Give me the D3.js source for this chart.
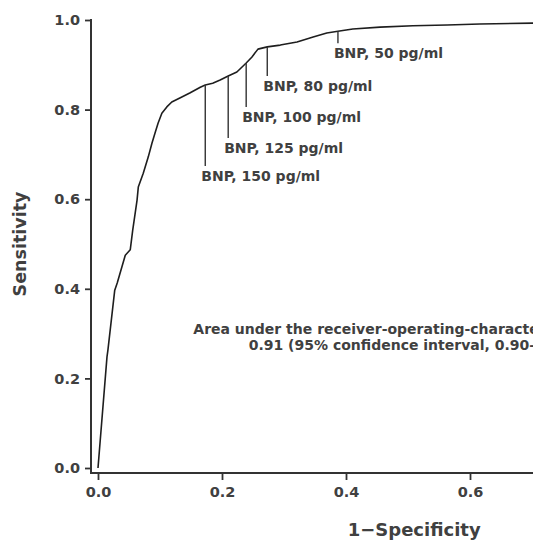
<!DOCTYPE html>
<html lang="en">

<head>
    <meta charset="UTF-8">
    <title>ROC curve for BNP</title>
    <script src="https://d3js.org/d3.v7.min.js"></script>
    <style>
        body {
            margin: 0;
            background: #fff;
        }

        text {
            font-family: "DejaVu Sans", Verdana, sans-serif;
            font-weight: bold;
            fill: #404040;
        }
    </style>
</head>

<body>
    <script>
        // ROC curve (1 - specificity, sensitivity)
        const fpr = [0, 0.0145, 0.016, 0.027, 0.031, 0.044, 0.052, 0.056, 0.063, 0.065, 0.073, 0.081, 0.087,
            0.092, 0.097, 0.103, 0.111, 0.119, 0.132, 0.148, 0.165, 0.173, 0.185, 0.197, 0.210, 0.224,
            0.239, 0.248, 0.258, 0.273, 0.294, 0.321, 0.347, 0.369, 0.387, 0.411, 0.455, 0.508, 0.563,
            0.616, 0.702, 0.8, 0.9, 1];
        const tpr = [0, 0.248, 0.263, 0.397, 0.413, 0.475, 0.487, 0.531, 0.598, 0.627, 0.658, 0.694, 0.725,
            0.748, 0.770, 0.792, 0.806, 0.817, 0.826, 0.837, 0.850, 0.855, 0.859, 0.866, 0.875, 0.884,
            0.904, 0.917, 0.935, 0.940, 0.944, 0.951, 0.962, 0.971, 0.975, 0.980, 0.984, 0.987, 0.989,
            0.991, 0.993, 0.996, 0.998, 1];

        // BNP cut-off points marked on the curve
        const cutoffs = [150, 125, 100, 80, 50];
        const cutoffFpr = [0.173, 0.210, 0.239, 0.273, 0.387];
        const cutoffTpr = [0.855, 0.875, 0.904, 0.940, 0.975];

        // only the ticks that show inside the cropped figure
        const xTicks = [0, 0.2, 0.4, 0.6];
        const yTicks = [0, 0.2, 0.4, 0.6, 0.8, 1.0];

        const aucLines = ["Area under the receiver-operating-characteristic curve,",
            "0.91 (95% confidence interval, 0.90\u20130.93)"];

        const width = 533;
        const height = 542;

        // how far each cut-off label sits below its point (px)
        const labelDrop = [96, 77, 59, 44, 27];

        const svg = d3.select("body").append("svg")
            .attr("width", width)
            .attr("height", height);

        const x = d3.scaleLinear().domain([0, 1]).range([98, 718]);
        const y = d3.scaleLinear().domain([0, 1]).range([468, 20]);

        const axisX = 91;   // y axis is pulled off the plot a little
        const axisY = 473;  // same for x axis

        // x axis
        const gx = svg.append("g")
            .attr("transform", `translate(0,${axisY})`)
            .call(d3.axisBottom(x)
                .tickValues(xTicks)
                .tickFormat(d3.format(".1f"))
                .tickSize(7)
                .tickPadding(7)
                .tickSizeOuter(0));

        // y axis
        const gy = svg.append("g")
            .attr("transform", `translate(${axisX},0)`)
            .call(d3.axisLeft(y)
                .tickValues(yTicks)
                .tickFormat(d3.format(".1f"))
                .tickSize(6)
                .tickPadding(5)
                .tickSizeOuter(0));

        [gx, gy].forEach(g => {
            g.select(".domain").remove();
            g.selectAll(".tick line").attr("stroke", "#333").attr("stroke-width", 1.8);
            g.selectAll(".tick text").style("font-size", "14.5px");
        });

        svg.append("line")
            .attr("x1", axisX).attr("x2", axisX)
            .attr("y1", y(1) - 1).attr("y2", axisY + 1)
            .attr("stroke", "#333").attr("stroke-width", 2);

        svg.append("line")
            .attr("x1", axisX - 1).attr("x2", x(1))
            .attr("y1", axisY).attr("y2", axisY)
            .attr("stroke", "#333").attr("stroke-width", 2);

        // axis titles
        svg.append("text")
            .attr("x", x(0.51))
            .attr("y", 536)
            .attr("text-anchor", "middle")
            .style("font-size", "18px")
            .text("1\u2212Specificity");

        svg.append("text")
            .attr("transform", `translate(26,${y(0.5)}) rotate(-90)`)
            .attr("text-anchor", "middle")
            .style("font-size", "17.5px")
            .text("Sensitivity");

        // the curve
        const line = d3.line()
            .x((d, i) => x(fpr[i]))
            .y((d, i) => y(tpr[i]));

        svg.append("path")
            .datum(fpr)
            .attr("d", line)
            .attr("fill", "none")
            .attr("stroke", "#1e1e1e")
            .attr("stroke-width", 1.6)
            .attr("stroke-linejoin", "round");

        // cut-off markers
        const marks = svg.selectAll(".cutoff")
            .data(cutoffs)
            .enter()
            .append("g")
            .attr("class", "cutoff");

        marks.append("line")
            .attr("x1", (d, i) => x(cutoffFpr[i]))
            .attr("x2", (d, i) => x(cutoffFpr[i]))
            .attr("y1", (d, i) => y(cutoffTpr[i]))
            .attr("y2", (d, i) => y(cutoffTpr[i]) + labelDrop[i] - 15)
            .attr("stroke", "#333")
            .attr("stroke-width", 1.4);

        marks.append("text")
            .attr("x", (d, i) => x(cutoffFpr[i]) - 4)
            .attr("y", (d, i) => y(cutoffTpr[i]) + labelDrop[i])
            .style("font-size", "14px")
            .text(d => `BNP, ${d} pg/ml`);

        // AUC note, runs off the right edge as in the source figure
        svg.append("text")
            .attr("text-anchor", "middle")
            .style("font-size", "14px")
            .selectAll("tspan")
            .data(aucLines)
            .enter()
            .append("tspan")
            .attr("x", x(0.508))
            .attr("y", (d, i) => y(0.30) + i * 16)
            .text(d => d);
    </script>
</body>

</html>
